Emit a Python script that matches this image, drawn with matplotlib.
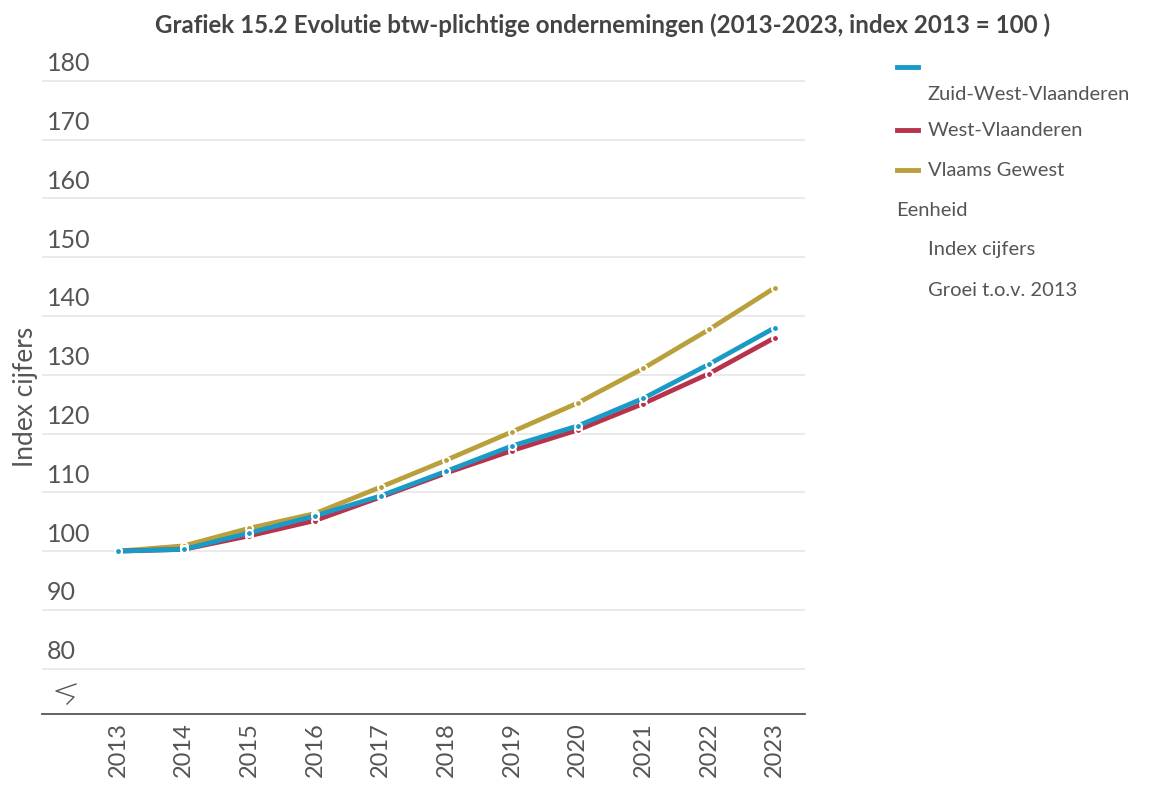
import matplotlib
matplotlib.use("Agg")
import matplotlib.pyplot as plt
from matplotlib.lines import Line2D
import matplotlib.transforms as mtransforms

plt.rcParams['font.family'] = ['Lato', 'DejaVu Sans']

years = ['2013', '2014', '2015', '2016', '2017', '2018', '2019', '2020', '2021', '2022', '2023']
zuid_west_vlaanderen = [100.0, 100.3, 103.1, 106.0, 109.4, 113.6, 117.9, 121.3, 126.0, 131.8, 138.0]
west_vlaanderen = [100.0, 100.3, 102.6, 105.2, 109.2, 113.3, 117.1, 120.6, 125.1, 130.2, 136.3]
vlaams_gewest = [100.0, 100.9, 103.9, 106.4, 110.9, 115.5, 120.3, 125.2, 131.1, 137.7, 144.8]
series_names = ['Zuid-West-Vlaanderen', 'West-Vlaanderen', 'Vlaams Gewest']
yticks = [80, 90, 100, 110, 120, 130, 140, 150, 160, 170, 180]

colors = ['#1a9ac6', '#b8324b', '#b9a03b']
text_col = '#555555'

W, H = 1161, 787
fig = plt.figure(figsize=(W / 100, H / 100), dpi=100)
ax = fig.add_axes([42 / W, 1 - 714 / H, (805 - 42) / W, (714 - 69) / H])

x = list(range(len(years)))
# draw in reverse so blue is on top
for vals, c in list(zip([zuid_west_vlaanderen, west_vlaanderen, vlaams_gewest], colors))[::-1]:
    ax.plot(x, vals, color=c, lw=3.4, solid_capstyle='round', zorder=3)
    ax.plot(x, vals, ls='none', marker='o', ms=5, mfc=c, mec='white', mew=1.5, zorder=4)

ax.set_xlim(-1.157, 10.46)
ax.set_ylim(72.3, 182.0)

for v in yticks:
    ax.axhline(v, color='#e6e6e6', lw=1.2, zorder=1)
ax.set_yticks([])
offset = mtransforms.offset_copy(ax.transData, fig=fig, x=0, y=4, units='points')
blend = mtransforms.blended_transform_factory(ax.transAxes, offset)
for v in yticks:
    ax.text(0.006, v, str(v), transform=blend, ha='left', va='bottom',
            fontsize=18, color=text_col)

# axis break symbol (pixel coordinates converted to axes fraction)
bx = [76, 56, 74, 67]
by = [684, 691, 697, 704]
ax.plot([(p - 42) / 763 for p in bx], [(714 - p) / 645 for p in by],
        transform=ax.transAxes, color='#555555', lw=1, clip_on=False)

for s in ['top', 'right', 'left']:
    ax.spines[s].set_visible(False)
ax.spines['bottom'].set_color('#555555')
ax.spines['bottom'].set_linewidth(1.3)

ax.set_xticks(x)
ax.set_xticklabels(years, rotation=90, fontsize=17, color=text_col)
ax.tick_params(axis='x', length=0, pad=6)

fig.text(25 / W, 1 - 397 / H, 'Index cijfers', rotation=90, ha='center', va='center',
         fontsize=19, color=text_col)

fig.text(603 / W, 1 - 25 / H, 'Grafiek 15.2 Evolutie btw-plichtige ondernemingen (2013-2023, index 2013 = 100 )',
         ha='center', va='center', fontsize=17.4, fontweight='bold', color='#444444')

# legend
leg_items = [(67, 94), (130, 130), (170, 170)]
for (ly, ty), c, name in zip(leg_items, colors, series_names):
    fig.add_artist(Line2D([897 / W, 918 / W], [1 - ly / H, 1 - ly / H], color=c, lw=3.5))
    fig.text(928 / W, 1 - ty / H, name, ha='left', va='center', fontsize=14.5, color=text_col)
fig.text(896 / W, 1 - 211 / H, 'Eenheid', ha='left', va='center', fontsize=14.5, color=text_col)
fig.text(928 / W, 1 - 250 / H, 'Index cijfers', ha='left', va='center', fontsize=14.5, color=text_col)
fig.text(928 / W, 1 - 291 / H, 'Groei t.o.v. 2013', ha='left', va='center', fontsize=14.5, color=text_col)

fig.savefig('out.png', dpi=100)
